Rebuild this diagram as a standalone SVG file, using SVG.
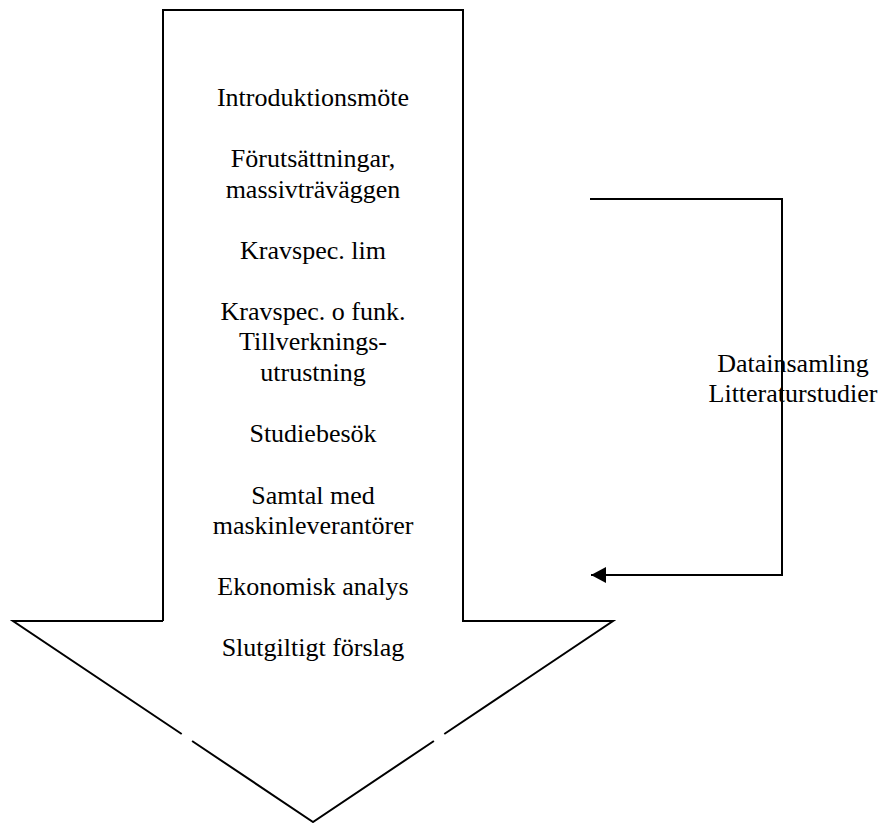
<svg xmlns="http://www.w3.org/2000/svg" width="884" height="823" viewBox="0 0 884 823">
<style>
.ln{fill:none;stroke:#000;stroke-width:2;stroke-linejoin:miter}
.t{font-family:"Liberation Serif","Times New Roman",serif;font-size:26px;fill:#000}
.c{text-anchor:middle}
</style>
<defs>
<marker id="ah" markerWidth="15" markerHeight="16" refX="15" refY="8" orient="auto" markerUnits="userSpaceOnUse">
<path d="M0,0 L15,8 L0,16 Z" fill="#000"/>
</marker>
</defs>
<rect width="884" height="823" fill="#fff"/>
<g id="bigArrow">
<path class="ln" d="M163,621 L163,10 L463,10 L463,621 L613,621 L444.3,734"/>
<path class="ln" d="M163,621 L13,621 L181.7,734"/>
<path class="ln" d="M192.1,741 L313,822 L433.9,741"/>
</g>
<g id="steps" class="t c">
<text x="313" y="106">Introduktionsmöte</text>
<text x="313" y="167">Förutsättningar,</text>
<text x="313" y="197.5">massivträväggen</text>
<text x="313" y="258.5">Kravspec. lim</text>
<text x="313" y="319.5">Kravspec. o funk.</text>
<text x="313" y="350">Tillverknings-</text>
<text x="313" y="380.5">utrustning</text>
<text x="313" y="442">Studiebesök</text>
<text x="313" y="503.5">Samtal med</text>
<text x="313" y="534">maskinleverantörer</text>
<text x="313" y="595">Ekonomisk analys</text>
<text x="313" y="656">Slutgiltigt förslag</text>
</g>
<g id="connectors">
<path class="ln" d="M590,199 L782,199 L782,575 L591,575" marker-end="url(#ah)"/>
</g>
<g id="label" class="t c">
<text x="793" y="372">Datainsamling</text>
<text x="793" y="402">Litteraturstudier</text>
</g>
</svg>
